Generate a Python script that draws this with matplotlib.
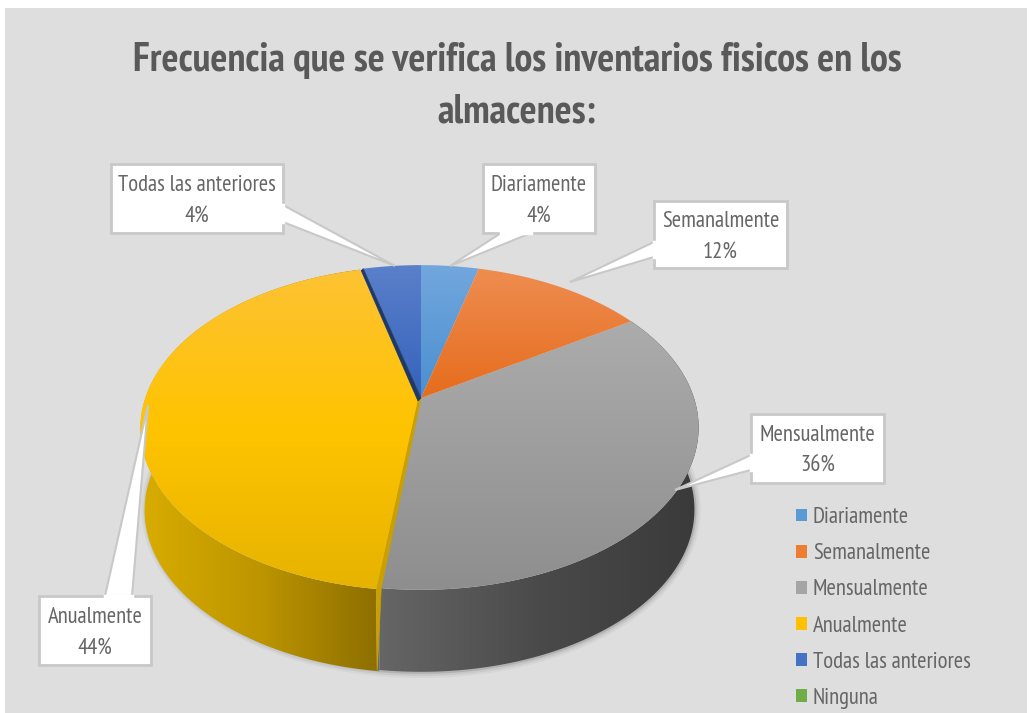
# coding: utf-8

import numpy as np
import matplotlib
matplotlib.use("Agg")
import matplotlib.pyplot as plt
from matplotlib.colors import to_rgb
from matplotlib.patches import Patch, Polygon, Rectangle

plt.rcParams['font.family'] = ['PT Sans Narrow', 'Liberation Sans', 'DejaVu Sans']

title = "Frecuencia que se verifica los inventarios fisicos en los\nalmacenes:"
categories = ["Diariamente", "Semanalmente", "Mensualmente", "Anualmente", "Todas las anteriores", "Ninguna"]
values = [4, 12, 36, 44, 4, 0]
legend_colors = ["#5b9bd5", "#ed7d31", "#a5a5a5", "#ffc000", "#4472c4", "#70ad47"]

# vertical colour stops of the top faces, with the y range they span
top_stops = {
    0: (["#72a7dd", "#4b8fd0"], 265, 398),
    1: (["#ee8e52", "#e66c1c"], 265, 398),
    2: (["#acacac", "#8e8e8e"], 320, 590),
    3: (["#fdc235", "#ffc400", "#e6b300"], 265, 590),
    4: (["#5b80ca", "#3462bb"], 265, 398),
}

# pie geometry in pixels
cx, cy = 421, 398
a, b, k = 273, 157, 0.1815
depth = 82
shrink = 0.985  # the bottom rim is a little narrower than the top one


def project(angle, dx=0, dy=0):
    # angle in degrees, clockwise from the back of the disc
    t = np.radians(angle)
    u, v = np.sin(t), -np.cos(t)
    s = 1 / (1 - k * v)
    return cx + dx + a * u * s, cy + dy + b * v * s


def ramp(stops, pos, p0, p1):
    rgb = np.array([to_rgb(c) for c in stops])
    xs = np.linspace(p0, p1, len(stops))
    return np.column_stack([np.interp(pos, xs, rgb[:, i]) for i in range(3)])


def fill_gradient(pts, grad, z):
    im = ax.imshow(grad, extent=(0, 1029, 713, 0), aspect='auto', zorder=z)
    poly = Polygon(pts, fc='none', ec='none', transform=ax.transData)
    ax.add_patch(poly)
    im.set_clip_path(poly)


fig = plt.figure(figsize=(10.29, 7.13), dpi=100, facecolor='white')
ax = fig.add_axes([0, 0, 1, 1])
ax.axis('off')
ax.add_patch(Rectangle((5, 8), 1022, 705, fc='#dedede', ec='none', zorder=0))

edges = np.concatenate([[0], np.cumsum(values)]) / np.sum(values) * 360
offsets = {3: (-3, 1)}

# soft shadow under the body
ang = np.linspace(edges[2] - 95, edges[4] - 75, 300)
sx, sy = project(ang)
for lw, al in [(9, 0.05), (6, 0.08), (3, 0.15)]:
    ax.plot(cx + (sx - cx) * shrink, sy + depth, color='#303030', lw=lw, alpha=al, zorder=1)

# side walls: gray then gold, shaded by x
wall_stops = {2: (["#666666", "#4a4a4a", "#3a3a3a"], 378, 699),
              3: (["#d8ac00", "#bd9500", "#8e6f00"], 143, 376)}
for i in [2, 3]:
    dx, dy = offsets.get(i, (0, 0))
    stops, p0, p1 = wall_stops[i]
    ang = np.linspace(edges[i], edges[i + 1], 220)
    xs, ys = project(ang, dx, dy)
    low = np.column_stack([cx + (xs - cx) * shrink, ys + depth])
    pts = np.vstack([np.column_stack([xs, ys]), low[::-1]])
    grad = ramp(stops, np.arange(1029) + 0.5, p0, p1)[None, :, :]
    fill_gradient(pts, grad, 2)

# gold cut face of the exploded slice, seen at the front corner
x0, y0 = project(edges[3])
x1, y1 = project(edges[3], *offsets[3])
ax.add_patch(Polygon([(x0, y0), (x0, y0 + depth), (x1 + 1, y1 + depth)], fc='#666666', ec='#666666', lw=0.5, zorder=3))
ax.add_patch(Polygon([(x1, y1), (x0 + 2, y0), (x1 + 1, y1 + depth)], fc='#c9a000', ec='#c9a000', lw=0.5, zorder=3))
ax.add_patch(Polygon([(cx, cy), (x0 + 2, y0), (x1, y1), (cx - 3, cy + 1)], fc='#c9a000', ec='#c9a000', lw=0.5, zorder=5.2))

# navy cut face of the last slice
x2, y2 = project(edges[4])
ax.add_patch(Polygon([(cx, cy), (x2, y2), (x2 - 2, y2 + 2), (cx - 3, cy + 3)], fc='#1f3864', ec='#1f3864', lw=0.5, zorder=6))

# top faces with a vertical gradient
for i in [2, 0, 1, 4, 3]:
    dx, dy = offsets.get(i, (0, 0))
    ang = np.linspace(edges[i], edges[i + 1], 200)
    xs, ys = project(ang, dx, dy)
    pts = np.vstack([[cx + dx, cy + dy], np.column_stack([xs, ys])])
    stops, p0, p1 = top_stops[i]
    grad = ramp(stops, np.arange(713) + 0.5, p0, p1)[:, None, :]
    fill_gradient(pts, grad, 5 if i != 3 else 5.5)

# callouts: box (x0, y0, x1, y1), pointer base and tip
boxes = [(483, 164, 595, 233), (654, 201, 787, 268), (751, 414, 884, 483), (39, 596, 151, 665), (111, 164, 283, 233)]
bases = [((501, 233), (531, 233)), ((654, 242), (654, 257)), ((751, 455), (751, 470)),
         ((105, 596), (132, 596)), ((283, 205), (283, 222))]
tips = [(450, 266), (570, 282), (675, 490), (148, 405), (395, 266)]
for i, (bx, base, tip) in enumerate(zip(boxes, bases, tips)):
    ax.add_patch(Polygon([base[0], tip, base[1]], fc='white', ec='#c8c8c8', lw=1.5, zorder=7))
    ax.add_patch(Rectangle((bx[0], bx[1]), bx[2] - bx[0], bx[3] - bx[1], fc='white', ec='#c8c8c8', lw=2, zorder=8))
    ax.plot([base[0][0], base[1][0]], [base[0][1], base[1][1]], color='white', lw=2.5, zorder=9)
    ax.text((bx[0] + bx[2]) / 2, (bx[1] + bx[3]) / 2 + 2.5, "%s\n%d%%" % (categories[i], values[i]),
            ha='center', va='center', fontsize=16.3, color='#666666', linespacing=1.6, zorder=10)

ax.text(517, 86, title, ha='center', va='center', fontsize=28.8, fontweight='bold', color='#595959', linespacing=1.5, zorder=10)

handles = [Patch(fc=c, ec='none') for c in legend_colors]
ax.legend(handles, categories, loc='upper left', bbox_to_anchor=(796 / 1029, 1 - 507 / 713), frameon=False,
          fontsize=16.3, labelcolor='#666666', handlelength=0.49, handleheight=0.49, handletextpad=0.26,
          labelspacing=0.67, borderpad=0, borderaxespad=0)

ax.set_xlim(0, 1029)
ax.set_ylim(713, 0)
fig.savefig("out.png", dpi=100, facecolor='white')
